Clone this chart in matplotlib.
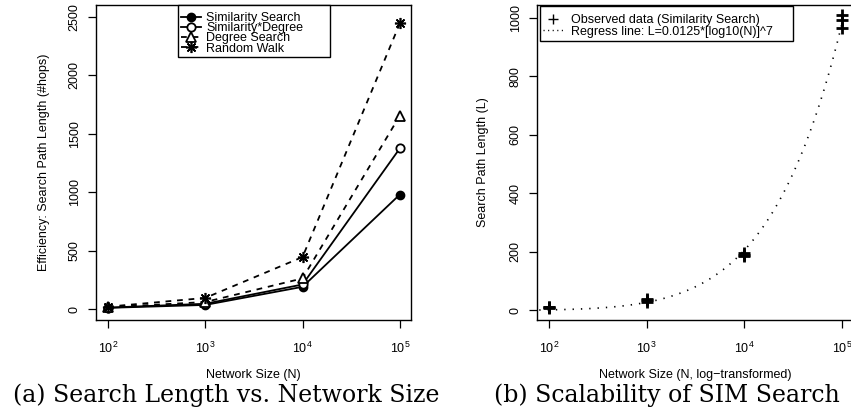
import matplotlib
matplotlib.use("Agg")
import matplotlib.pyplot as plt
from matplotlib.patches import Rectangle
import numpy as np

plt.rcParams['font.family'] = ['Liberation Sans', 'DejaVu Sans']
plt.rcParams['mathtext.fontset'] = 'custom'
plt.rcParams['mathtext.rm'] = 'Liberation Sans'
plt.rcParams['mathtext.it'] = 'Liberation Sans:italic'

# ---- data: search path length vs network size ----
network_sizes = [100, 1000, 10000, 100000]
similarity_search = [10, 35, 190, 980]
similarity_degree = [12, 45, 210, 1375]
degree_search = [15, 60, 262, 1655]
random_walk = [20, 95, 445, 2445]

# repeated runs of similarity search
obs_n = [100, 100, 100, 1000, 1000, 1000, 10000, 10000, 10000, 100000, 100000, 100000]
obs_L = [8, 10, 12, 30, 35, 38, 184, 190, 195, 964, 992, 1009]

reg_coef = 0.0125
reg_power = 7

x_ticks = [100, 1000, 10000, 100000]
left_yticks = [0, 500, 1000, 1500, 2000, 2500]
right_yticks = [0, 200, 400, 600, 800, 1000]

W, H = 851, 413
fig = plt.figure(figsize=(W / 100, H / 100), dpi=100)
fig.patch.set_facecolor('white')

def px_axes(x0, x1, y0, y1):
    return fig.add_axes([x0 / W, 1 - y1 / H, (x1 - x0) / W, (y1 - y0) / H])

def px_box(ax, x0, x1, y0, y1):
    ax.add_patch(Rectangle((x0 / W, 1 - y1 / H), (x1 - x0) / W, (y1 - y0) / H,
                           transform=fig.transFigure, fill=True, facecolor='white',
                           edgecolor='black', lw=1.0, zorder=3, clip_on=False))

axL = px_axes(96, 411, 5, 320)
axR = px_axes(537, 853, 5, 320)

fs = 9

def style_axes(ax, yticks, ylim):
    ax.set_xscale('log')
    ax.set_xlim(10 ** 1.877, 10 ** 5.115)
    ax.set_ylim(*ylim)
    ax.set_xticks(x_ticks)
    ax.minorticks_off()
    ax.set_yticks(yticks)
    for s in ax.spines.values():
        s.set_linewidth(1.0)
        s.set_color('black')
    ax.tick_params(axis='both', direction='out', length=6, width=0.9,
                   labelsize=fs, colors='black')
    ax.tick_params(axis='x', pad=9)
    ax.tick_params(axis='y', pad=5)
    for lab in ax.get_yticklabels():
        lab.set_rotation(90)
        lab.set_va('center')

# ---- panel (a) ----
mk = 6
lw = 1.3
axL.plot(network_sizes, similarity_search, color='black', lw=lw, ls='-',
         marker='o', ms=mk, mfc='black', label='Similarity Search')
axL.plot(network_sizes, similarity_degree, color='black', lw=lw, ls='-',
         marker='o', ms=mk, mfc='white', mew=1.3, label='Similarity*Degree')
axL.plot(network_sizes, degree_search, color='black', lw=lw, ls=(0, (3.2, 3.2)),
         marker='^', ms=mk + 1, mfc='white', mew=1.3, label='Degree Search')
axL.plot(network_sizes, random_walk, color='black', lw=lw, ls=(0, (3.2, 3.2)),
         marker=(8, 2, 0), ms=mk + 2, mew=1.2, label='Random Walk')
style_axes(axL, left_yticks, (-94, 2603))
axL.set_ylabel('Efficiency: Search Path Length (#hops)', fontsize=fs)
axL.yaxis.set_label_coords(-(96 - 44) / 315, 0.5)
axL.set_xlabel('Network Size (N)', fontsize=fs)
axL.xaxis.set_label_coords(0.5, -(375 - 320) / 315)
axL.xaxis.label.set_va('center')
axL.yaxis.label.set_va('center')

px_box(axL, 178, 330, 5, 57)
legL = axL.legend(loc='upper left', bbox_to_anchor=((178 - 96) / 315, 1 - (9 - 5) / 315),
                  fontsize=fs, frameon=False, handlelength=1.6, handletextpad=0.4,
                  labelspacing=-0.15, borderpad=0.25, borderaxespad=0)
legL.set_zorder(6)

# ---- panel (b) ----
n_line = np.logspace(1.9, 5.0, 200)
L_line = reg_coef * np.log10(n_line) ** reg_power
axR.plot(obs_n, obs_L, ls='none', marker='+', ms=9, mew=2.0, color='black')
axR.plot(n_line, L_line, color='black', lw=1.2, ls=(0, (0.8, 4.2)))
style_axes(axR, right_yticks, (-33, 1043))
axR.set_ylabel('Search Path Length (L)', fontsize=fs)
axR.yaxis.set_label_coords(-(537 - 483) / 316, 0.5)
axR.set_xlabel('Network Size (N, log\u2212transformed)', fontsize=fs)
axR.xaxis.set_label_coords(0.5, -(375 - 320) / 315)
axR.xaxis.label.set_va('center')
axR.yaxis.label.set_va('center')

px_box(axR, 540, 793, 6, 41)
legR = axR.legend(handles=[
    plt.Line2D([], [], ls='none', marker='+', ms=7, mew=1.0, color='black'),
    plt.Line2D([], [], color='black', lw=1.0, ls=(0, (0.8, 2.5))),
], labels=['Observed data (Similarity Search)', 'Regress line: L=0.0125*[log10(N)]^7'],
    loc='upper left', bbox_to_anchor=((540 - 537) / 316, 1 - (11 - 5) / 315),
    fontsize=fs, frameon=False, handlelength=1.6, handletextpad=0.6,
    labelspacing=-0.03, borderpad=0.25, borderaxespad=0)
legR.set_zorder(6)

# ---- captions ----
cap_kw = dict(fontsize=17, family='DejaVu Serif', ha='center', va='center')
fig.text(226 / W, 1 - 395 / H, '(a) Search Length vs. Network Size', **cap_kw)
fig.text(667 / W, 1 - 395 / H, '(b) Scalability of SIM Search', **cap_kw)

fig.savefig('out.png', dpi=100, facecolor='white')
